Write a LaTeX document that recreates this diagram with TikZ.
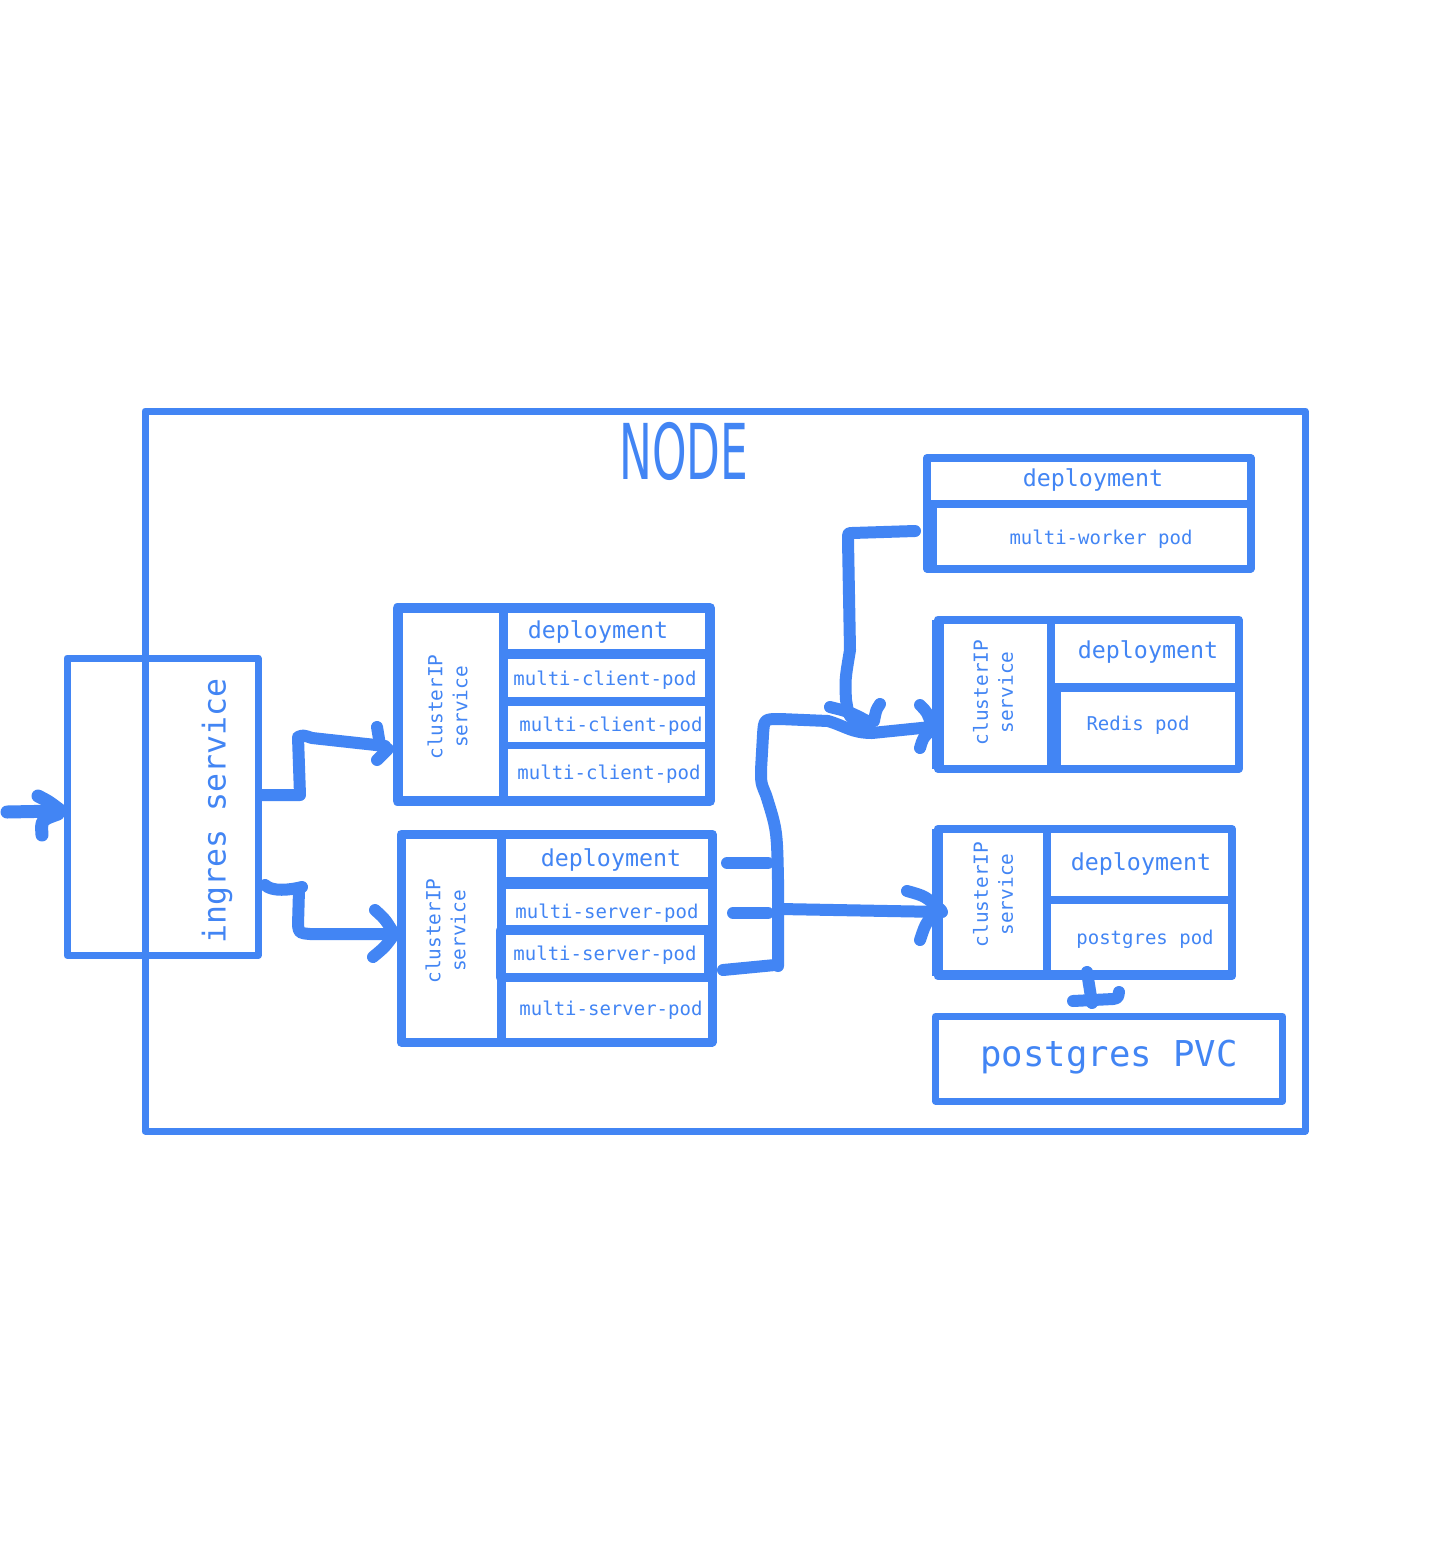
\documentclass[tikz,border=0pt]{standalone}
\usepackage{fontspec}
\usepackage{graphicx}
\setmonofont{DejaVu Sans Mono}
\newfontfamily\nodefont{DejaVu Sans}
\definecolor{bl}{RGB}{66,133,244}
\tikzset{
 box/.style={draw=bl, line join=round},
 conn/.style={draw=bl, line width=12pt, line cap=round, line join=round},
 lbl/.style={text=bl, inner sep=0pt, yshift=-2pt, font=\ttfamily\fontsize{19}{25}\selectfont},
 big/.style={text=bl, inner sep=0pt, yshift=-2pt, font=\ttfamily\fontsize{23.3}{28}\selectfont},
 svc/.style={text=bl, inner sep=0pt, rotate=90, align=center, font=\ttfamily\fontsize{19.4}{25}\selectfont},
}
\begin{document}
\begin{tikzpicture}[x=1pt,y=-1pt]
\useasboundingbox[fill=white] (0,0) rectangle (1434,1561);

% NODE frame
\draw[box, line width=7] (145,411) rectangle (1305,1131);
\node[text=bl, inner sep=0pt] (nodet) at (684,451) {\scalebox{0.57}[1]{\nodefont\fontsize{77}{80}\selectfont NODE}};

% ingres service
\draw[box, line width=7] (67,658) rectangle (258,955.5);
\node[text=bl, inner sep=0pt, rotate=90, font=\ttfamily\fontsize{31.5}{36}\selectfont] (ing) at (217,811) {ingres service};

% client box
\draw[box, line width=10] (397.5,608) rectangle (710,801);
\draw[box, line width=9] (503.5,608) -- (503.5,801);
\draw[box, line width=10] (503.5,654) -- (710,654);
\draw[box, line width=9] (503.5,701.5) -- (710,701.5);
\draw[box, line width=7] (503.5,745.5) -- (710,745.5);
\node[svc] (csvc) at (447.5,707) {clusterIP\\service};
\node[big] (cdep) at (598,630) {deployment};
\node[lbl] (cp1) at (605,678) {multi-client-pod};
\node[lbl] (cp2) at (611,724) {multi-client-pod};
\node[lbl] (cp3) at (609,772) {multi-client-pod};

% server box
\draw[box, line width=9] (401,834) rectangle (712,1042);
\draw[box, line width=9] (501,834) -- (501,1042);
\draw[box, line width=12] (501,883) -- (712,883);
\draw[box, line width=10] (501,930) -- (712,930);
\draw[box, line width=9] (501,977.5) -- (712,977.5);
\draw[box, line width=7] (499,930) rectangle (707,977);
\node[svc] (ssvc) at (445.5,931) {clusterIP\\service};
\node[big] (sdep) at (611,858) {deployment};
\node[lbl] (sp1) at (607,911) {multi-server-pod};
\node[lbl] (sp2) at (605,953) {multi-server-pod};
\node[lbl] (sp3) at (611,1008) {multi-server-pod};

% worker box
\draw[box, line width=8] (927,458) rectangle (1250.5,568.5);
\draw[box, line width=8] (927,503.5) -- (1250.5,503.5);
\draw[box, line width=7] (933,503.5) -- (933,568.5);
\node[big] (wdep) at (1093,478) {deployment};
\node[lbl] (wpod) at (1101,537) {multi-worker pod};

% redis box
\draw[box, line width=8] (938,619.5) rectangle (1238.5,769);
\draw[box, line width=12] (938,619.5) -- (938,769);
\draw[box, line width=8] (1051,619.5) -- (1051,769);
\draw[box, line width=9] (1051,687.5) -- (1238.5,687.5);
\draw[box, line width=8] (1057,687.5) -- (1057,769);
\node[svc] (rsvc) at (993,692.5) {clusterIP\\service};
\node[big] (rdep) at (1148,650) {deployment};
\node[lbl] (rpod) at (1138,723) {Redis pod};

% postgres box
\draw[box, line width=8] (937.5,829) rectangle (1232,976);
\draw[box, line width=11] (937.5,829) -- (937.5,976);
\draw[box, line width=8] (1047,829) -- (1047,976);
\draw[box, line width=8] (1047,900) -- (1232,900);
\draw[box, line width=10] (937.5,975) -- (1232,975);
\node[svc] (psvc) at (993,894.5) {clusterIP\\service};
\node[big] (pdep) at (1141,862) {deployment};
\node[lbl] (ppod) at (1145,937) {postgres pod};

% PVC
\draw[box, line width=7] (935.5,1016.5) rectangle (1282.5,1101);
\node[text=bl, inner sep=0pt, yshift=-2pt, font=\ttfamily\fontsize{35.6}{40}\selectfont] (pvc) at (1109,1055) {postgres PVC};

% ---- connectors ----
% entry
\coordinate (e0) at (7,812);
\coordinate (e1) at (60,811);
\draw[conn, line width=13] (e0) -- (e1);
\draw[conn, line width=13] (38,796) .. controls (48,801) .. (60,810);
\draw[conn, line width=13] (42,835) .. controls (41,820) .. (58,814);

% ingres -> client
\coordinate (a0) at (262,795);
\coordinate (a1) at (385,746);
\draw[conn] (a0) -- (300,795) -- (298,737) .. controls (303,735) .. (312,738) -- (a1);
\draw[conn] (377,727) -- (380,745);
\draw[conn] (377,760) -- (388,749);

% ingres -> server
\coordinate (b0) at (265,885);
\coordinate (b1) at (393,934);
\draw[conn] (b0) .. controls (272,892) and (290,890) .. (302,887);
\draw[conn] (299,890) -- (298,925) .. controls (299,933) .. (310,934) -- (b1);
\draw[conn] (375,910) .. controls (385,919) .. (393,932);
\draw[conn] (373,957) .. controls (385,947) .. (393,936);

% server stubs and bus
\draw[conn] (727,863) -- (768,863);
\draw[conn] (733,913) -- (768,913);
\draw[conn] (723,970) -- (775,965);
\coordinate (bus0) at (778,966);
\coordinate (r1) at (931,727);
\draw[conn] (bus0) -- (778,880) .. controls (777,830) .. (766,795)
  .. controls (761,783) .. (761,770) -- (763,735) .. controls (764,719) .. (780,719)
  -- (828,721) .. controls (845,726) and (852,733) .. (872,733) -- (r1);
\draw[conn] (920,705) .. controls (927,712) .. (931,723);
\draw[conn] (920,748) .. controls (923,738) .. (930,731);

% bus -> postgres
\coordinate (p0) at (780,909);
\coordinate (p1) at (942,912);
\draw[conn] (p0) -- (p1);
\draw[conn] (907,891) .. controls (925,896) .. (941,910);
\draw[conn] (920,940) .. controls (925,925) .. (933,914);

% worker -> redis
\coordinate (w0) at (915,531);
\coordinate (w1) at (869,722);
\draw[conn] (w0) -- (852,533) .. controls (848,533) .. (848,540) -- (850,650)
  .. controls (845,680) .. (846,700) -- (848,712) .. controls (852,720) .. (w1);
\draw[conn] (830,707) .. controls (850,712) .. (869,722);
\draw[conn] (880,704) .. controls (876,710) .. (874,721);

% postgres -> PVC
\coordinate (v0) at (1087,972);
\coordinate (v1) at (1092,1003);
\draw[conn] (v0) -- (v1);
\draw[conn] (1073,1001) -- (1113,999) .. controls (1118,998) .. (1119,992);
\end{tikzpicture}
\end{document}
